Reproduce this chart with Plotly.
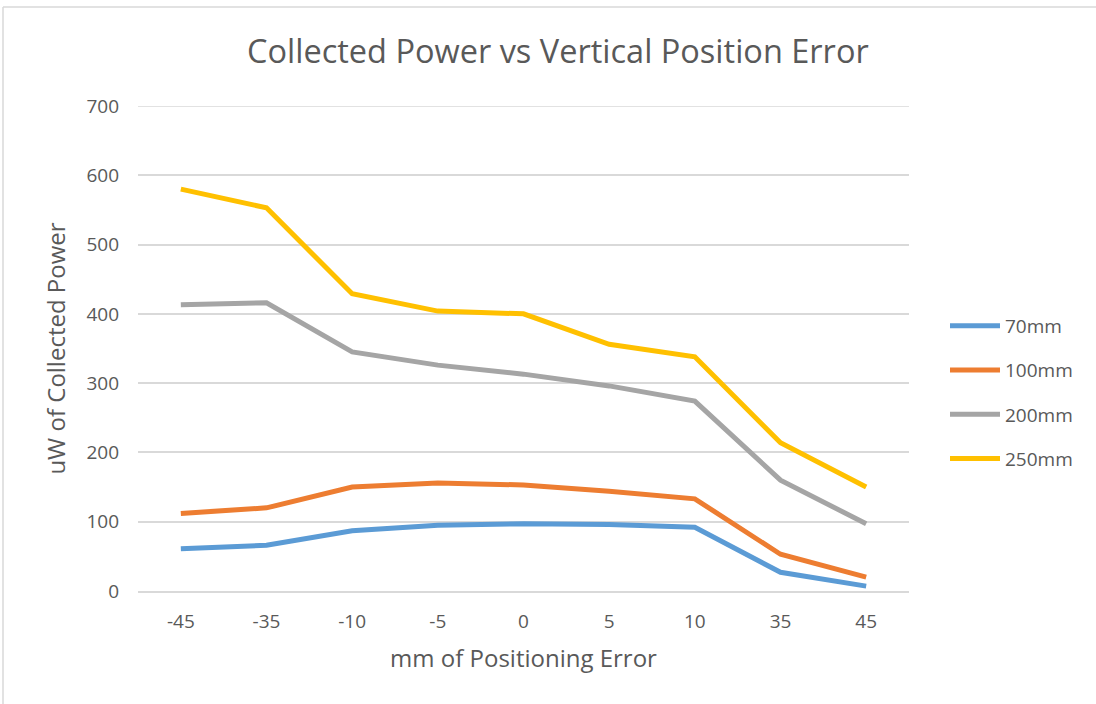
import plotly.graph_objects as go

# data
positions = ["-45", "-35", "-10", "-5", "0", "5", "10", "35", "45"]
p70 = [61, 66, 87, 95, 97, 96, 92, 27, 7]
p100 = [112, 120, 150, 156, 153, 144, 133, 53, 20]
p200 = [413, 416, 345, 326, 313, 296, 274, 160, 97]
p250 = [580, 553, 429, 404, 400, 356, 338, 214, 150]

series = [("70mm", p70, "#5B9BD5"), ("100mm", p100, "#ED7D31"),
          ("200mm", p200, "#A5A5A5"), ("250mm", p250, "#FFC000")]

W, H = 1096, 704
ml, mr, mt, mb = 138, 187, 106, 113
pw, ph = W - ml - mr, H - mt - mb

fig = go.Figure()
for name, vals, col in series:
    fig.add_trace(go.Scatter(x=positions, y=vals, name=name, mode="lines", legendgroup=name,
                             line=dict(color=col, width=5)))

# thin chart-area border (left and top edges visible in the reference)
bx = (3 - ml) / pw
by = 1 + (mt - 7) / ph
fig.add_shape(type="line", xref="paper", yref="paper", x0=bx, x1=bx, y0=by, y1=-2,
              line=dict(color="#D9D9D9", width=1.5))
fig.add_shape(type="line", xref="paper", yref="paper", x0=bx, x1=3, y0=by, y1=by,
              line=dict(color="#D9D9D9", width=1.5))
# top gridline (plotly drops the one sitting on the range edge)
fig.add_shape(type="line", xref="paper", yref="y", x0=0, x1=1, y0=700, y1=700,
              line=dict(color="#D9D9D9", width=1.5), layer="below")

fig.update_layout(
    width=W, height=H,
    margin=dict(l=ml, r=mr, t=mt, b=mb),
    paper_bgcolor="white", plot_bgcolor="white",
    font=dict(family="Open Sans", color="#595959", size=19),
    title=dict(text="Collected Power vs Vertical Position Error", x=0.509, xanchor="center",
               y=1 - 52 / H, yanchor="middle", font=dict(size=32.5, color="#595959")),
    legend=dict(x=(945 - ml) / pw, y=1 - (307 - mt) / ph, xanchor="left", yanchor="top",
                font=dict(size=19), tracegroupgap=16.5, itemwidth=50),
    showlegend=True,
)
fig.update_xaxes(type="category", range=[-0.5, 8.5], showgrid=False, showline=True,
                 linecolor="#D9D9D9", linewidth=1.5, ticks="", tickfont=dict(size=19),
                 ticklabelstandoff=12,
                 title=dict(text="mm of Positioning Error", font=dict(size=24), standoff=18))
fig.update_yaxes(range=[0, 700], dtick=100, showgrid=True, gridcolor="#D9D9D9", gridwidth=1.5,
                 zeroline=False, showline=False, ticks="", tickfont=dict(size=19),
                 ticklabelstandoff=18,
                 title=dict(text="uW of Collected Power", font=dict(size=24), standoff=14))

fig.write_html("out.html", config={"displayModeBar": False},
               post_script="document.body.style.margin='0';")
